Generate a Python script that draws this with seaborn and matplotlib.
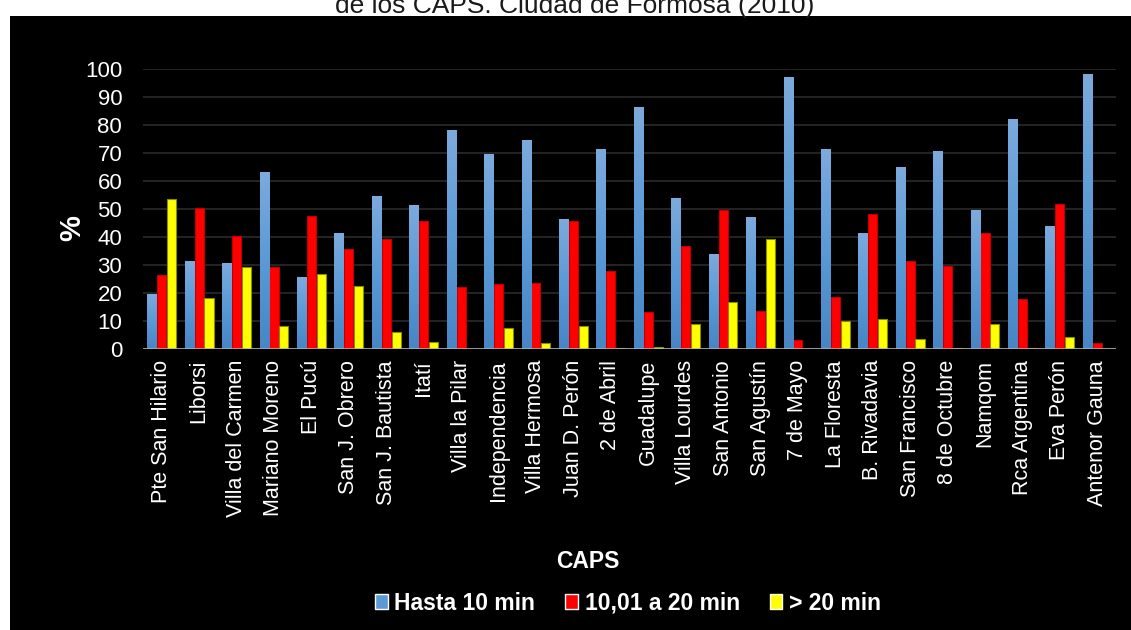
import numpy as np
import pandas as pd
import matplotlib
matplotlib.use("Agg")
import matplotlib.pyplot as plt
from matplotlib.patches import Rectangle
from matplotlib.colors import LinearSegmentedColormap
import seaborn as sns

# Tiempo de espera por CAPS (%)
caps = [
    "Pte San Hilario", "Liborsi", "Villa del Carmen", "Mariano Moreno", "El Pucú",
    "San J. Obrero", "San J. Bautista", "Itatí", "Villa la Pilar", "Independencia",
    "Villa Hermosa", "Juan D. Perón", "2 de Abril", "Guadalupe", "Villa Lourdes",
    "San Antonio", "San Agustín", "7 de Mayo", "La Floresta", "B. Rivadavia",
    "San Francisco", "8 de Octubre", "Namqom", "Rca Argentina", "Eva Perón",
    "Antenor Gauna",
]
hasta_10 = [19.6, 31.4, 30.4, 62.9, 25.4, 41.4, 54.6, 51.4, 77.9, 69.3,
            74.6, 46.1, 71.4, 86.1, 53.9, 33.6, 47.1, 96.8, 71.4, 41.1,
            65.0, 70.4, 49.3, 81.8, 43.9, 97.9]
de_10_a_20 = [26.4, 50.4, 40.2, 29.2, 47.6, 35.7, 39.3, 45.6, 22.1, 23.3,
              23.5, 45.6, 27.9, 13.2, 36.7, 49.6, 13.5, 3.2, 18.6, 48.2,
              31.4, 29.5, 41.4, 17.9, 51.7, 2.1]
mas_20 = [53.7, 18.2, 29.2, 8.1, 26.9, 22.5, 6.0, 2.6, 0.0, 7.4,
          2.0, 8.1, 0.5, 0.7, 9.0, 16.7, 39.3, 0.0, 9.9, 10.7,
          3.5, 0.2, 8.9, 0.3, 4.3, 0.0]
series = ["Hasta 10 min", "10,01 a 20 min", "> 20 min"]
y_ticks = list(range(0, 101, 10))

df = pd.DataFrame({
    "CAPS": caps * 3,
    "pct": hasta_10 + de_10_a_20 + mas_20,
    "serie": np.repeat(series, len(caps)),
})

sns.set_theme(style="white")
plt.rcParams["font.family"] = ["Liberation Sans", "DejaVu Sans"]

W, H = 1131, 630
fig = plt.figure(figsize=(W / 100, H / 100), dpi=100)
fig.patch.set_facecolor("white")
fig.add_artist(Rectangle((10 / W, 0), 1, (H - 16) / H, transform=fig.transFigure,
                         facecolor="black", edgecolor="none", zorder=0))

fig.text(575 / W, 1 - 13 / H, "de los CAPS. Ciudad de Formosa (2010)",
         ha="center", va="baseline", fontsize=19, color="#1a1a1a")

ax = fig.add_axes([143 / W, (H - 349) / H, 973 / W, 280 / H])
ax.set_facecolor("black")

palette = {"Hasta 10 min": "#5B9BD5", "10,01 a 20 min": "#FF0000", "> 20 min": "#FFFF00"}
sns.barplot(data=df, x="CAPS", y="pct", hue="serie", palette=palette,
            width=0.79, gap=0.08, saturation=1, errorbar=None, ax=ax, zorder=3)

# Blue bars get a vertical gradient, light at top and deeper at the base
cmap = LinearSegmentedColormap.from_list("azul", ["#4785C5", "#5A9AD6", "#7CAADD"])
grad = np.linspace(0, 1, 128).reshape(-1, 1)
for p in ax.containers[0]:
    x0, w, h = p.get_x(), p.get_width(), p.get_height()
    if h > 0:
        ax.imshow(grad, extent=[x0, x0 + w, 0, h], origin="lower", aspect="auto",
                  cmap=cmap, zorder=3, interpolation="bilinear")
    p.set_facecolor("none")
    p.set_edgecolor("none")
for p in ax.containers[1]:
    p.set_edgecolor("#C00000")
    p.set_linewidth(0.8)
for p in ax.containers[2]:
    p.set_edgecolor("#8C8C00")
    p.set_linewidth(0.8)

ax.set_xlim(-0.5, len(caps) - 0.5)
ax.set_ylim(0, 100)
ax.set_yticks(y_ticks)
ax.yaxis.grid(True, color="#272727", linewidth=1.3, zorder=0)
ax.set_axisbelow(True)
ax.axhline(0, color="#B0B0B0", linewidth=2.2, alpha=0.8, zorder=5)
for s in ax.spines.values():
    s.set_visible(False)

ax.tick_params(axis="x", rotation=90, colors="white", labelsize=15.5, length=0, pad=8)
ax.tick_params(axis="y", colors="white", labelsize=16, length=0, pad=15)

ax.set_xlabel("CAPS", color="white", fontsize=16.5, fontweight="bold")
ax.xaxis.set_label_coords((588 - 143) / 973, (349 - 562) / 280)
ax.xaxis.label.set_va("center")
ax.set_ylabel("%", color="white", fontsize=21, fontweight="bold")
ax.yaxis.set_label_coords((72 - 143) / 973, (349 - 228) / 280)
ax.yaxis.label.set_va("center")

handles, labels = ax.get_legend_handles_labels()
ax.get_legend().remove()
leg = fig.legend(handles, labels, loc="center", bbox_to_anchor=(628 / W, (H - 603) / H),
                 ncol=3, frameon=False, handlelength=0.55, handleheight=0.65,
                 handletextpad=0.3, columnspacing=1.3,
                 prop={"size": 16.5, "weight": "bold"})
for t in leg.get_texts():
    t.set_color("white")

fig.savefig("out.png", dpi=100, facecolor=fig.get_facecolor())
